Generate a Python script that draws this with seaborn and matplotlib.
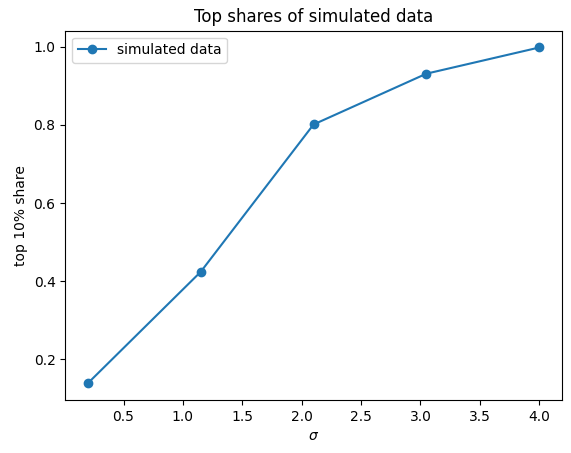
import numpy as np
import seaborn as sns
import matplotlib.pyplot as plt
import pandas as pd

# values
sigma = [0.2, 1.15, 2.1, 3.05, 4.0]
top_share = [0.139, 0.424, 0.801, 0.931, 0.998]

df = pd.DataFrame({"sigma": sigma, "share": top_share})

fig = plt.figure(figsize=(5.71, 4.53), dpi=100)
ax = fig.add_axes([0.1144, 0.117, 0.8694, 0.8152])

sns.lineplot(data=df, x="sigma", y="share", marker="o", markersize=6,
             markeredgecolor="C0", markeredgewidth=1, color="C0",
             label="simulated data", ax=ax)

ax.set_title("Top shares of simulated data")
ax.set_xlabel(r"$\sigma$")
ax.set_ylabel("top 10% share")
ax.legend(loc="upper left")

fig.savefig("out.png", dpi=100)
